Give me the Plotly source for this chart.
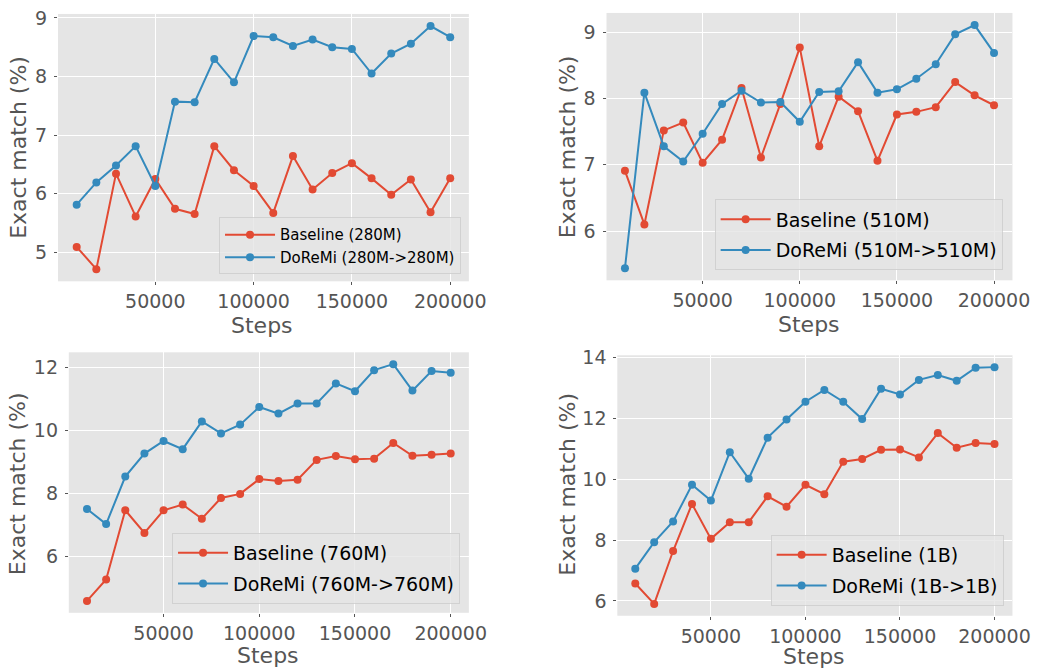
import plotly.graph_objects as go

steps = [10000 * i for i in range(1, 21)]

base_280 = [5.09, 4.71, 6.34, 5.61, 6.25, 5.74, 5.65, 6.81, 6.40, 6.13,
            5.67, 6.64, 6.07, 6.35, 6.52, 6.26, 5.98, 6.24, 5.68, 6.26]
doremi_280 = [5.81, 6.19, 6.48, 6.81, 6.13, 7.57, 7.56, 8.30, 7.90, 8.69,
              8.67, 8.52, 8.63, 8.50, 8.47, 8.05, 8.39, 8.56, 8.86, 8.67]

base_510 = [6.91, 6.10, 7.52, 7.64, 7.03, 7.38, 8.16, 7.11, 7.92, 8.77,
            7.28, 8.03, 7.81, 7.06, 7.76, 7.80, 7.87, 8.25, 8.05, 7.90]
doremi_510 = [5.44, 8.09, 7.28, 7.05, 7.47, 7.92, 8.12, 7.94, 7.95, 7.65,
              8.10, 8.11, 8.55, 8.09, 8.14, 8.30, 8.52, 8.97, 9.11, 8.69]

base_760 = [4.58, 5.26, 7.46, 6.74, 7.46, 7.64, 7.19, 7.85, 7.98, 8.45,
            8.39, 8.43, 9.06, 9.18, 9.08, 9.10, 9.60, 9.19, 9.22, 9.26]
doremi_760 = [7.50, 7.02, 8.53, 9.26, 9.66, 9.40, 10.28, 9.90, 10.18, 10.74,
              10.53, 10.85, 10.85, 11.49, 11.24, 11.91, 12.10, 11.26, 11.88, 11.83]

base_1b = [6.57, 5.90, 7.64, 9.19, 8.04, 8.59, 8.59, 9.44, 9.10, 9.82,
           9.51, 10.58, 10.67, 10.97, 10.98, 10.72, 11.52, 11.04, 11.19, 11.16]
doremi_1b = [7.06, 7.93, 8.61, 9.82, 9.30, 10.89, 10.02, 11.37, 11.97, 12.55,
             12.94, 12.55, 11.98, 12.98, 12.79, 13.27, 13.43, 13.24, 13.67, 13.69]

panels = [
    ("Baseline (280M)", "DoReMi (280M->280M)", base_280, doremi_280, 1.0, 15),
    ("Baseline (510M)", "DoReMi (510M->510M)", base_510, doremi_510, 1.0, 19),
    ("Baseline (760M)", "DoReMi (760M->760M)", base_760, doremi_760, 2.0, 19),
    ("Baseline (1B)", "DoReMi (1B->1B)", base_1b, doremi_1b, 2.0, 19),
]

W, H = 1058, 670
# plot areas in pixels: (left, right, top, bottom)
boxes = [(59, 477, 5, 276), (617, 1030, 4, 275), (70, 477, 348, 612), (628, 1030, 351, 615)]
legend_pos = [(469, 269), (1020, 265), (468, 603), (1021, 605)]
legend_gap = [0, 3, 3, 3]
ytitle_pos = [(18, 140), (577, 140), (18, 481), (577, 482)]
xtitle_pos = [(267, 321), (823, 320), (273, 655), (828, 656)]

RED = "#E24A33"
BLUE = "#348ABD"
FONT = "DejaVu Sans"
GRAY = "#555555"

fig = go.Figure()
layout = dict(width=W, height=H, autosize=False, margin=dict(l=0, r=0, t=0, b=0),
              paper_bgcolor="white", plot_bgcolor="#E5E5E5",
              font=dict(family=FONT, color=GRAY), showlegend=True)
annotations = []

xmin, xmax = min(steps), max(steps)
xpad = 0.05 * (xmax - xmin)

for i, (lb, ld, yb, yd, dt, lfs) in enumerate(panels):
    n = i + 1
    xa = "x" if n == 1 else f"x{n}"
    ya = "y" if n == 1 else f"y{n}"
    lg = "legend" if n == 1 else f"legend{n}"
    fig.add_trace(go.Scatter(x=steps, y=yb, name=lb, mode="lines+markers",
                             line=dict(color=RED, width=2), marker=dict(color=RED, size=8),
                             xaxis=xa, yaxis=ya, legend=lg, legendgroup=f"b{n}"))
    fig.add_trace(go.Scatter(x=steps, y=yd, name=ld, mode="lines+markers",
                             line=dict(color=BLUE, width=2), marker=dict(color=BLUE, size=8),
                             xaxis=xa, yaxis=ya, legend=lg, legendgroup=f"d{n}"))
    l, r, t, b = boxes[i]
    allv = yb + yd
    vmin, vmax = min(allv), max(allv)
    ypad = 0.05 * (vmax - vmin)
    layout["xaxis" if n == 1 else f"xaxis{n}"] = dict(
        domain=[l / W, r / W], anchor=ya, range=[xmin - xpad, xmax + xpad],
        tick0=0, dtick=50000, tickformat="d", showgrid=True, gridcolor="white", gridwidth=1,
        zeroline=False, ticks="outside", ticklen=3, tickcolor=GRAY, ticklabelstandoff=0,
        tickfont=dict(size=19, color=GRAY, family=FONT), showline=False)
    layout["yaxis" if n == 1 else f"yaxis{n}"] = dict(
        domain=[1 - b / H, 1 - t / H], anchor=xa, range=[vmin - ypad, vmax + ypad],
        tick0=0, dtick=dt, showgrid=True, gridcolor="white", gridwidth=1,
        zeroline=False, ticks="outside", ticklen=3, tickcolor=GRAY, ticklabelstandoff=3,
        tickfont=dict(size=19, color=GRAY, family=FONT), showline=False)
    lx, ly = legend_pos[i]
    layout[lg] = dict(x=lx / W, y=1 - ly / H, xanchor="right", yanchor="bottom",
                      xref="paper", yref="paper", itemwidth=50,
                      tracegroupgap=legend_gap[i],
                      bgcolor="rgba(229,229,229,0.8)", bordercolor="rgba(204,204,204,0.8)",
                      borderwidth=1, font=dict(size=lfs, color="black", family=FONT))
    tx, ty = ytitle_pos[i]
    annotations.append(dict(text="Exact match (%)", x=tx / W, y=1 - ty / H, xref="paper", yref="paper",
                            showarrow=False, textangle=-90, xanchor="center", yanchor="middle",
                            font=dict(size=22, color=GRAY, family=FONT)))
    sx, sy = xtitle_pos[i]
    annotations.append(dict(text="Steps", x=sx / W, y=1 - sy / H, xref="paper", yref="paper",
                            showarrow=False, xanchor="center", yanchor="middle",
                            font=dict(size=22, color=GRAY, family=FONT)))

layout["annotations"] = annotations
fig.update_layout(**layout)
fig.write_html("out.html", config={"displayModeBar": False, "responsive": False},
               post_script="document.body.style.margin='0px';document.body.style.overflow='hidden';")
